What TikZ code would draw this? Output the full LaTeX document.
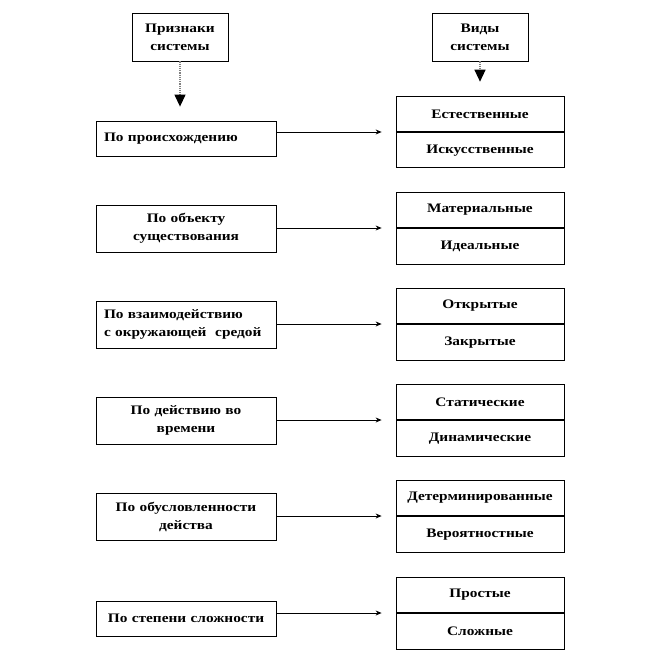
\documentclass[tikz,border=0pt]{standalone}
\usepackage{fontspec}
\setmainfont{Liberation Serif}[FakeStretch=1.18]
\usetikzlibrary{arrows.meta}

\begin{document}
\begin{tikzpicture}[x=1pt,y=-1pt,
    every node/.style={font=\fontsize{13}{18}\selectfont\bfseries},
    head/.style={draw,line width=0.8pt,minimum width=96pt,minimum height=48pt,align=center,inner sep=0pt},
    priznak/.style={draw,line width=0.8pt,minimum width=180pt,inner sep=0pt,text width=164pt},
    vid/.style={draw,line width=0.8pt,minimum width=168pt,minimum height=35.5pt,inner sep=0pt},
    svyaz/.style={line width=0.8pt,shorten >=14pt,-{Stealth[length=6pt,width=5pt]}},
    vniz/.style={gray,densely dotted,line width=1.2pt,shorten >=14pt,-{Triangle[length=12pt,width=11pt,black]}}]%
    \useasboundingbox (0,0) rectangle (648,660);
    \node[head] (pr) at (180,37) {Признаки\\системы};
    \node[head] (vs) at (480,37) {Виды\\системы};
    % признаки
    \node[priznak,minimum height=35pt,align=left] (p1) at (186,138.5) {По происхождению};
    \node[priznak,minimum height=47pt,align=center] (p2) at (186,228.5) {По объекту\\существования};
    \node[priznak,minimum height=47pt,align=left] (p3) at (186,324.5) {По взаимодействию\\с окружающей\ \ средой};
    \node[priznak,minimum height=47pt,align=center] (p4) at (186,420.5) {По действию во\\времени};
    \node[priznak,minimum height=47pt,align=center] (p5) at (186,516.5) {По обусловленности\\действа};
    \node[priznak,minimum height=35pt,align=center] (p6) at (186,618.5) {По степени сложности};
    % виды
    \node[vid,anchor=south] (v1a) at (480,132) {Естественные};
    \node[vid,anchor=north] (v1b) at (480,132) {Искусственные};
    \node[vid,anchor=south] (v2a) at (480,228) {Материальные};
    \node[vid,anchor=north] (v2b) at (480,228) {Идеальные};
    \node[vid,anchor=south] (v3a) at (480,324) {Открытые};
    \node[vid,anchor=north] (v3b) at (480,324) {Закрытые};
    \node[vid,anchor=south] (v4a) at (480,420) {Статические};
    \node[vid,anchor=north] (v4b) at (480,420) {Динамические};
    \node[vid,anchor=south] (v5a) at (480,516) {Детерминированные};
    \node[vid,anchor=north] (v5b) at (480,516) {Вероятностные};
    \node[vid,anchor=south] (v6a) at (480,613) {Простые};
    \node[vid,anchor=north] (v6b) at (480,613) {Сложные};
    % стрелки
    \draw[vniz] (pr.south) -- (pr.south |- p1.north);
    \draw[vniz] (vs.south) -- (v1a.north);
    \draw[svyaz] (p1.east |- v1a.south west) -- (v1a.south west);
    \draw[svyaz] (p2.east |- v2a.south west) -- (v2a.south west);
    \draw[svyaz] (p3.east |- v3a.south west) -- (v3a.south west);
    \draw[svyaz] (p4.east |- v4a.south west) -- (v4a.south west);
    \draw[svyaz] (p5.east |- v5a.south west) -- (v5a.south west);
    \draw[svyaz] (p6.east |- v6a.south west) -- (v6a.south west);
\end{tikzpicture}
\end{document}
